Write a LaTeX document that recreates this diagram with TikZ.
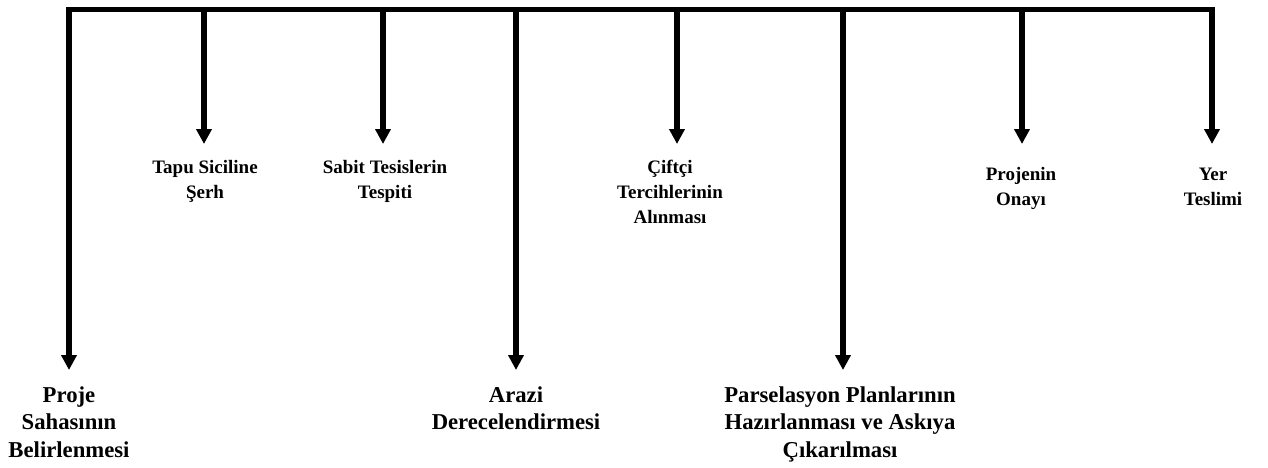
\documentclass[tikz,border=0pt]{standalone}
\usepackage{fontspec}
\setmainfont{Liberation Serif}
\usetikzlibrary{arrows.meta}
\newcommand{\biglbl}[1]{\fontsize{22.7}{27.5}\selectfont\begin{tabular}[t]{@{}c@{}}#1\end{tabular}}
\newcommand{\smalllbl}[1]{\fontsize{19}{25}\selectfont\begin{tabular}[t]{@{}c@{}}#1\end{tabular}}
\begin{document}
\begin{tikzpicture}[x=1pt,y=-1pt,
  bar/.style={line width=5.5pt},
  arr/.style={line width=5.5pt,-{Triangle[width=15pt,length=15pt]}},
  lbl/.style={anchor=base,inner sep=0pt,font=\bfseries},
]
\useasboundingbox (0,0) rectangle (1268,467);
% top bar
\coordinate (L) at (66,9.5);
\coordinate (R) at (1215,9.5);
\draw[bar] (L) -- (R);
% branch points and arrow tips
\coordinate (s1) at (69,9.5);   \coordinate (h1) at (69,370);
\coordinate (s2) at (204,9.5);  \coordinate (h2) at (204,144);
\coordinate (s3) at (383,9.5);  \coordinate (h3) at (383,144);
\coordinate (s4) at (516,9.5);  \coordinate (h4) at (516,370);
\coordinate (s5) at (677,9.5);  \coordinate (h5) at (677,144);
\coordinate (s6) at (843,9.5);  \coordinate (h6) at (843,370);
\coordinate (s7) at (1022,9.5); \coordinate (h7) at (1022,144);
\coordinate (s8) at (1212,9.5); \coordinate (h8) at (1212,144);
\foreach \i in {1,...,8} { \draw[arr] (s\i) -- (h\i); }
% labels
\node[lbl] (l1) at (69,402) {\biglbl{Proje\\Sahasının\\Belirlenmesi}};
\node[lbl] (l2) at (205,173) {\smalllbl{Tapu Siciline\\Şerh}};
\node[lbl] (l3) at (385,173) {\smalllbl{Sabit Tesislerin\\Tespiti}};
\node[lbl] (l4) at (516,402) {\biglbl{Arazi\\Derecelendirmesi}};
\node[lbl] (l5) at (670,173) {\smalllbl{Çiftçi\\Tercihlerinin\\Alınması}};
\node[lbl] (l6) at (840,402) {\biglbl{Parselasyon Planlarının\\Hazırlanması ve Askıya\\Çıkarılması}};
\node[lbl] (l7) at (1021,180) {\smalllbl{Projenin\\Onayı}};
\node[lbl] (l8) at (1213,180) {\smalllbl{Yer\\Teslimi}};
\end{tikzpicture}
\end{document}
